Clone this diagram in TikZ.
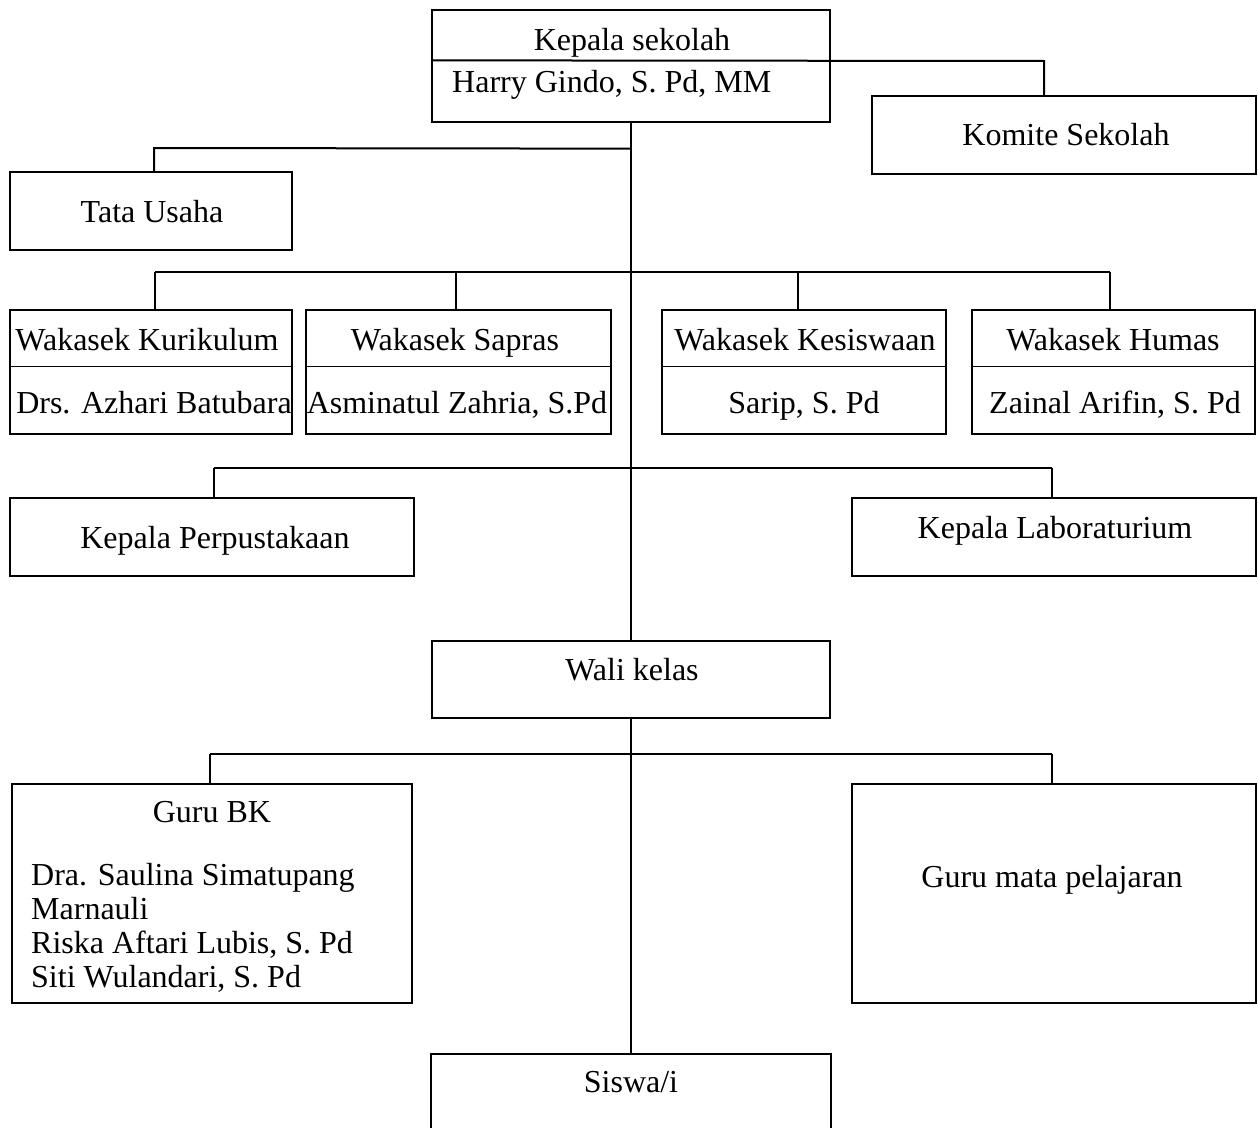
\documentclass[tikz,border=0pt]{standalone}
\usepackage{fontspec}
\setmainfont{Liberation Serif}
\begin{document}
\begin{tikzpicture}[x=1pt,y=-1pt,
  box/.style={draw, line width=1.3pt, inner sep=0pt},
  conn/.style={line width=2pt},
  divline/.style={line width=1.6pt},
  lbl/.style={inner sep=0pt, text height=0.7em, text depth=0.25em, font=\fontsize{32}{34}\selectfont},
]
\useasboundingbox (0,0) rectangle (1258,1127);
\clip (0,0) rectangle (1258,1127);
\newcommand\bx[5]{\node[box, minimum width={(#4-#2)*1pt}, minimum height={(#5-#3)*1pt}] (#1) at ({(#2+#4)/2},{(#3+#5)/2}) {};}
% boxes
\bx{ks}{432}{10}{830}{122}
\bx{komite}{872}{96}{1256}{174}
\bx{tu}{10}{172}{292}{250}
\bx{wk1}{10}{310}{292}{434}
\bx{wk2}{306}{310}{611}{434}
\bx{wk3}{662}{310}{946}{434}
\bx{wk4}{972}{310}{1255}{434}
\bx{perp}{10}{498}{414}{576}
\bx{lab}{852}{498}{1256}{576}
\bx{wali}{432}{641}{830}{718}
\bx{bk}{12}{784}{412}{1003}
\bx{mapel}{852}{784}{1256}{1003}
\bx{siswa}{431}{1054}{831}{1160}
% dividers in wakasek boxes
\foreach \i in {1,...,4}{
  \draw[divline] ([yshift=-57pt]wk\i.north west) -- ([yshift=-57pt]wk\i.north east);
}
% texts
\node[lbl] (tks) at (632,48) {Kepala sekolah};
\node[lbl, anchor=west] (tks2) at (452,90) {Harry Gindo, S. Pd, MM};
\node[lbl] (tkom) at (1066,143) {Komite Sekolah};
\node[lbl] (ttu) at (152,220) {Tata Usaha};
\node[lbl] (tw1) at (147,348) {Wakasek Kurikulum};
\node[lbl] (tw2) at (455,348) {Wakasek Sapras};
\node[lbl] (tw3) at (805,348) {Wakasek Kesiswaan};
\node[lbl] (tw4) at (1113,348) {Wakasek Humas};
\node[lbl] (tn1) at (154,411) {Drs. Azhari Batubara};
\node[lbl] (tn2) at (457,411) {Asminatul Zahria, S.Pd};
\node[lbl] (tn3) at (804,411) {Sarip, S. Pd};
\node[lbl] (tn4) at (1115,411) {Zainal Arifin, S. Pd};
\node[lbl] (tperp) at (215,546) {Kepala Perpustakaan};
\node[lbl] (tlab) at (1055,536) {Kepala Laboraturium};
\node[lbl] (twali) at (632,678) {Wali kelas};
\node[lbl] (tbk) at (212,820) {Guru BK};
\node[inner sep=0pt, anchor=west, align=left, font=\fontsize{32}{34}\selectfont] (tbk2) at (31,928)
  {Dra. Saulina Simatupang\\Marnauli\\Riska Aftari Lubis, S. Pd\\Siti Wulandari, S. Pd};
\node[lbl] (tmapel) at (1052,885) {Guru mata pelajaran};
\node[lbl] (tsiswa) at (631,1090) {Siswa/i};
% connectors
\coordinate (kmt) at (1044,61);
\draw[conn] ([yshift=-51pt]ks.north west) -- (kmt) -- (kmt |- komite.north);
\draw[conn] (ks.south) -- (wali.north);
\draw[conn] (wali.south) -- (siswa.north);
\coordinate (tuc) at (154,148);
\draw[conn] ([yshift=-26pt]ks.south) -- (tuc) -- (tuc |- tu.north);
\coordinate (w1) at (155,272);
\coordinate (w2) at (456,272);
\coordinate (w3) at (798,272);
\coordinate (w4) at (1110,272);
\draw[conn] (w1) -- (w4);
\foreach \i in {1,...,4}{
  \draw[conn] (w\i) -- (w\i |- wk\i.north);
}
\coordinate (p1) at (214,468);
\coordinate (p2) at (1052,468);
\draw[conn] (p1) -- (p2);
\draw[conn] (p1) -- (p1 |- perp.north);
\draw[conn] (p2) -- (p2 |- lab.north);
\coordinate (g1) at (210,754);
\coordinate (g2) at (1052,754);
\draw[conn] (g1) -- (g2);
\draw[conn] (g1) -- (g1 |- bk.north);
\draw[conn] (g2) -- (g2 |- mapel.north);
\end{tikzpicture}
\end{document}
